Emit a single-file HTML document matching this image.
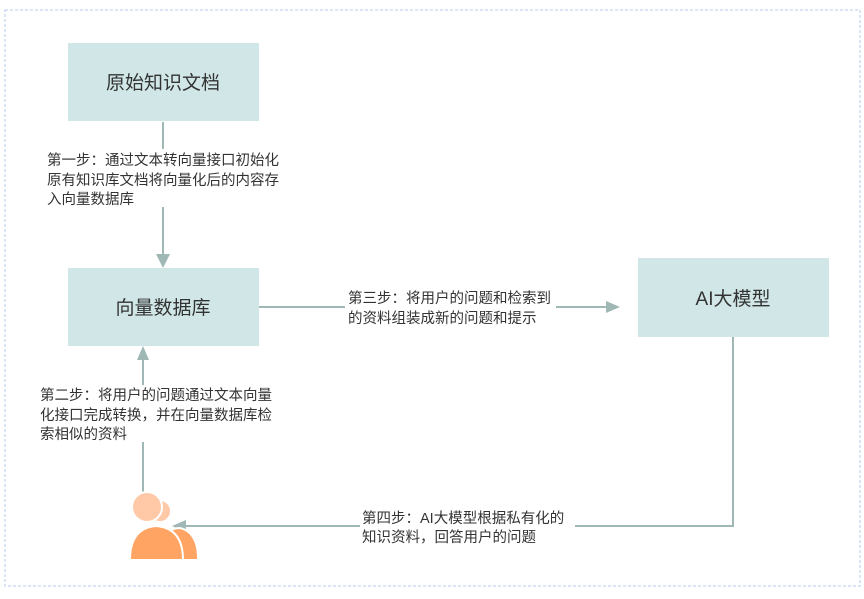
<!DOCTYPE html>
<html><head><meta charset="utf-8"><style>
body{margin:0;background:#fff;width:864px;height:594px;overflow:hidden}
text{font-family:"Liberation Sans","Noto Sans CJK SC",sans-serif;fill:#333}
</style></head><body>
<svg width="864" height="594" viewBox="0 0 864 594" xmlns="http://www.w3.org/2000/svg">
<rect x="5" y="10" width="855" height="576" fill="none" stroke="#b5cdee" stroke-dasharray="3,2" stroke-width="1"/>
<g fill="#d1e7e7">
<rect x="68" y="43" width="191" height="78"/>
<rect x="68" y="268" width="191" height="78"/>
<rect x="638" y="258" width="191" height="79"/>
</g>
<text x="163" y="89" font-size="19" text-anchor="middle">原始知识文档</text>
<text x="163" y="314" font-size="19" text-anchor="middle">向量数据库</text>
<text x="733" y="305" font-size="19" text-anchor="middle">AI大模型</text>
<g stroke="#9fb8b5" stroke-width="2" fill="none">
<path d="M163 122V149M163 207V256"/>
<path d="M259 307H345M556 307H606"/>
<path d="M733 337V526H575M360 526H186"/>
<path d="M143 492V442M143 385V358"/>
</g>
<g fill="#9fb8b5">
<path d="M156 254L170 254L163 268Z"/>
<path d="M606 301L606 313L620 307Z"/>
<path d="M186 520L186 532L172 526Z"/>
<path d="M137 360L149 360L143 346Z"/>
</g>
<g font-size="14.5">
<text x="47" y="165">第一步：通过文本转向量接口初始化</text>
<text x="47" y="185">原有知识库文档将向量化后的内容存</text>
<text x="47" y="204">入向量数据库</text>
<text x="348" y="303">第三步：将用户的问题和检索到</text>
<text x="348" y="323">的资料组装成新的问题和提示</text>
<text x="40" y="400">第二步：将用户的问题通过文本向量</text>
<text x="40" y="420">化接口完成转换，并在向量数据库检</text>
<text x="40" y="439">索相似的资料</text>
<text x="362" y="523">第四步：AI大模型根据私有化的</text>
<text x="362" y="542">知识资料，回答用户的问题</text>
</g>
<g>
<path d="M165 560V545Q165 528 180 528Q197 532 198 556V560Z" fill="#ffa463" stroke="#fff" stroke-width="2"/>
<circle cx="160" cy="511" r="11" fill="#ffc9a8" stroke="#fff" stroke-width="2"/>
<path d="M130 560Q130 528 156 526Q183 528 183 560Z" fill="#ffa463" stroke="#fff" stroke-width="2"/>
<circle cx="147" cy="507" r="15" fill="#ffc9a8" stroke="#fff" stroke-width="2"/>
</g>
</svg>
</body></html>
